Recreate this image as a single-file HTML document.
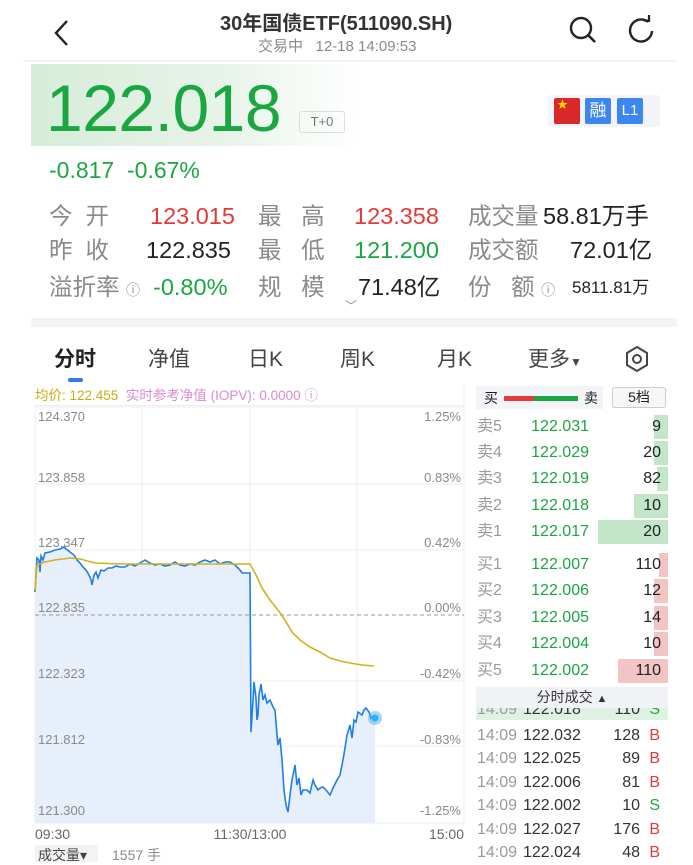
<!DOCTYPE html>
<html><head><meta charset="utf-8"><style>
*{margin:0;padding:0;box-sizing:border-box}
body{width:693px;height:862px;background:#fff;position:relative;overflow:hidden;font-family:"Liberation Sans","Noto Sans CJK SC",sans-serif;color:#222}
.a{position:absolute;white-space:nowrap}
.g{color:#1aa641}.r{color:#e23a3a}.gr{color:#8a8a8a}
.st{font-size:23.5px;line-height:30px}
.row{position:absolute;left:476px;width:192px;height:24px;font-size:16px;line-height:24px}
.row .l{position:absolute;left:1px;color:#9a9a9a}
.row .p{position:absolute;right:79px;color:#1aa641}
.row .v{position:absolute;right:7px;color:#222}
.row .b{position:absolute;right:0;top:0;height:24px}
.t{position:absolute;left:476px;width:192px;font-size:16px;line-height:22px}
.t .tm{position:absolute;left:1px;color:#9a9a9a}
.t .p{position:absolute;left:47px;color:#333}
.t .v{position:absolute;right:28px;color:#333}
.t .s{position:absolute;right:8px}
</style></head><body>
<svg class="a" style="left:52px;top:18px" width="20" height="30"><polyline points="15,3 4,15 15,27" fill="none" stroke="#222" stroke-width="2.4"/></svg>
<div class="a" style="left:220px;top:7px;font-size:20px;font-weight:bold;color:#333">30年国债ETF(511090.SH)</div>
<div class="a gr" style="left:258px;top:35px;font-size:15px">交易中&nbsp;&nbsp;&nbsp;12-18 14:09:53</div>
<svg class="a" style="left:567px;top:14px" width="34" height="32"><circle cx="14" cy="14" r="10" fill="none" stroke="#222" stroke-width="2.4"/><line x1="21" y1="21" x2="28" y2="28" stroke="#222" stroke-width="2.6"/></svg>
<svg class="a" style="left:626px;top:14px" width="32" height="30"><path d="M22 8 A11 11 0 1 0 26 17" fill="none" stroke="#222" stroke-width="2.4"/><polyline points="17,6 23,7 23,1" fill="none" stroke="#222" stroke-width="2.2"/></svg>
<div class="a" style="left:23px;top:60px;width:654px;height:2px;background:#f2f3f5"></div>
<div class="a" style="left:31px;top:64px;width:330px;height:82px;background:linear-gradient(90deg,#d7ecd9 0%,#e6f3e7 55%,#ffffff 100%)"></div>
<div class="a g" style="left:46px;top:70px;font-size:66px;line-height:76px;letter-spacing:-0.5px">122.018</div>
<div class="a" style="left:299px;top:111px;width:46px;height:22px;border:1px solid #ddd;border-radius:3px;font-size:13px;color:#777;text-align:center;line-height:20px">T+0</div>
<div class="a" style="left:548px;top:95px;width:112px;height:32px;background:#f3f4f7;border-radius:3px"></div>
<div class="a" style="left:554px;top:98px;width:26px;height:26px;background:#d8282a;border-radius:2px;color:#ffd500;font-size:11px;line-height:14px;padding-left:3px">★</div>
<div class="a" style="left:585px;top:98px;width:26px;height:26px;background:#3d86ef;border-radius:2px;color:#fff;font-size:17px;text-align:center;line-height:26px">融</div>
<div class="a" style="left:617px;top:98px;width:26px;height:26px;background:#3d86ef;border-radius:2px;color:#fff;font-size:15px;text-align:center;line-height:26px">L1</div>
<div class="a g" style="left:49px;top:157px;font-size:23px">-0.817&nbsp;&nbsp;-0.67%</div>
<div class="a gr st" style="left:49px;top:201px">今&nbsp;&nbsp;开</div>
<div class="a r st" style="left:150px;top:201px">123.015</div>
<div class="a gr st" style="left:258px;top:201px">最&nbsp;&nbsp;&nbsp;高</div>
<div class="a r st" style="left:354px;top:201px">123.358</div>
<div class="a gr st" style="left:468px;top:201px">成交量</div>
<div class="a st" style="left:543px;top:201px;color:#222">58.81万手</div>
<div class="a gr st" style="left:49px;top:235px">昨&nbsp;&nbsp;收</div>
<div class="a st" style="left:146px;top:235px">122.835</div>
<div class="a gr st" style="left:258px;top:235px">最&nbsp;&nbsp;&nbsp;低</div>
<div class="a g st" style="left:354px;top:235px">121.200</div>
<div class="a gr st" style="left:468px;top:235px">成交额</div>
<div class="a st" style="left:570px;top:235px">72.01亿</div>
<div class="a gr st" style="left:49px;top:272px">溢折率 <span style="font-size:14px">ⓘ</span></div>
<div class="a g st" style="left:153px;top:272px">-0.80%</div>
<div class="a gr st" style="left:258px;top:272px">规&nbsp;&nbsp;&nbsp;模</div>
<div class="a st" style="left:358px;top:272px">71.48亿</div>
<div class="a gr st" style="left:468px;top:272px">份&nbsp;&nbsp;&nbsp;额 <span style="font-size:14px">ⓘ</span></div>
<div class="a" style="left:572px;top:276px;font-size:17px;line-height:24px">5811.81万</div>
<div class="a gr" style="left:345px;top:297px;font-size:12px">﹀</div>
<div class="a" style="left:31px;top:318px;width:646px;height:9px;background:#f3f4f7"></div>
<div class="a" style="left:54px;top:343px;font-size:21px;font-weight:bold;color:#222">分时</div>
<div class="a" style="left:68px;top:378px;width:15px;height:4px;border-radius:2px;background:#2f7bea"></div>
<div class="a" style="left:148px;top:343px;font-size:21px;color:#444">净值</div>
<div class="a" style="left:248px;top:343px;font-size:21px;color:#444">日K</div>
<div class="a" style="left:340px;top:343px;font-size:21px;color:#444">周K</div>
<div class="a" style="left:437px;top:343px;font-size:21px;color:#444">月K</div>
<div class="a" style="left:528px;top:343px;font-size:21px;color:#444">更多<span style="font-size:12px">▼</span></div>
<svg class="a" style="left:624px;top:345px" width="26" height="28"><polygon points="13,2 23,8 23,20 13,26 3,20 3,8" fill="none" stroke="#444" stroke-width="2"/><circle cx="13" cy="14" r="4" fill="none" stroke="#444" stroke-width="2"/></svg>
<div class="a" style="left:35px;top:386px;width:430px;height:20px;font-size:13.5px;line-height:20px;border-bottom:1px solid #eee"><span style="color:#cfa913">均价: 122.455</span>&nbsp;&nbsp;<span style="color:#d98bd0">实时参考净值 (IOPV): 0.0000 ⓘ</span></div>
<svg class="a" style="left:0;top:0" width="470" height="862">
<g stroke="#eceef1" stroke-width="1">
<line x1="35" y1="407" x2="464" y2="407"/><line x1="35" y1="484" x2="464" y2="484"/><line x1="35" y1="550" x2="464" y2="550"/><line x1="35" y1="681" x2="464" y2="681"/><line x1="35" y1="746" x2="464" y2="746"/><line x1="35" y1="823" x2="464" y2="823"/>
<line x1="35" y1="407" x2="35" y2="823"/><line x1="142" y1="407" x2="142" y2="823"/><line x1="250" y1="407" x2="250" y2="823"/><line x1="357" y1="407" x2="357" y2="823"/><line x1="464" y1="386" x2="464" y2="823"/>
</g>
<polygon fill="#e3ecf9" opacity="0.85" points="35,823 35,592 37,558 39,560 40,572 41,556 43,560 45,553 50,552 55,550 60,549 64,547 66,549 70,552 74,555 77,560 80,563 83,567 86,570 89,575 91,580 92,585 94,575 96,572 98,578 101,570 104,571 108,568 112,568 116,566 120,567 125,567 130,564 135,566 140,563 145,560 150,563 155,565 160,564 165,566 170,565 175,562 180,565 185,566 190,564 195,565 200,562 205,560 210,562 215,560 220,564 225,562 230,562 235,565 240,570 242,573 246,573 250,573 251,732 253,700 254,682 256,698 257,720 258,715 259,695 261,684 263,700 265,695 267,703 270,700 273,707 275,710 277,735 278,745 280,738 282,760 284,790 286,805 288,812 290,795 292,780 295,765 297,785 299,778 301,795 303,790 307,790 310,793 313,780 315,785 318,790 320,788 323,787 326,790 330,795 333,788 337,780 340,775 343,760 345,748 347,735 350,725 352,738 354,720 356,722 358,712 362,715 364,710 366,708 369,712 371,718 373,716 375,717 375,823"/>
<line x1="35" y1="615" x2="464" y2="615" stroke="#999" stroke-width="1" stroke-dasharray="4,3"/>
<polyline fill="none" stroke="#1f7fe8" stroke-width="1.6" points="35,592 37,558 39,560 40,572 41,556 43,560 45,553 50,552 55,550 60,549 64,547 66,549 70,552 74,555 77,560 80,563 83,567 86,570 89,575 91,580 92,585 94,575 96,572 98,578 101,570 104,571 108,568 112,568 116,566 120,567 125,567 130,564 135,566 140,563 145,560 150,563 155,565 160,564 165,566 170,565 175,562 180,565 185,566 190,564 195,565 200,562 205,560 210,562 215,560 220,564 225,562 230,562 235,565 240,570 242,573 246,573 250,573 251,732 253,700 254,682 256,698 257,720 258,715 259,695 261,684 263,700 265,695 267,703 270,700 273,707 275,710 277,735 278,745 280,738 282,760 284,790 286,805 288,812 290,795 292,780 295,765 297,785 299,778 301,795 303,790 307,790 310,793 313,780 315,785 318,790 320,788 323,787 326,790 330,795 333,788 337,780 340,775 343,760 345,748 347,735 350,725 352,738 354,720 356,722 358,712 362,715 364,710 366,708 369,712 371,718 373,716 375,717"/>
<polyline fill="none" stroke="#d4b11a" stroke-width="1.6" points="35,590 37,565 45,562 55,560 70,558 80,559 95,563 120,564 200,564 250,564 256,575 262,588 270,600 278,610 285,620 292,632 300,640 310,647 320,652 330,658 340,661 350,663 362,665 374,666"/>
<circle cx="375" cy="718" r="7" fill="#5aa7f0" opacity="0.5"/><circle cx="375" cy="718" r="3.5" fill="#22b8f5"/>
<g font-family="Liberation Sans,sans-serif" font-size="13" fill="#8a8a8a">
<text x="38" y="421">124.370</text><text x="38" y="482">123.858</text><text x="38" y="547">123.347</text><text x="38" y="612">122.835</text><text x="38" y="678">122.323</text><text x="38" y="744">121.812</text><text x="38" y="815">121.300</text>
<text x="461" y="421" text-anchor="end">1.25%</text><text x="461" y="482" text-anchor="end">0.83%</text><text x="461" y="547" text-anchor="end">0.42%</text><text x="461" y="612" text-anchor="end">0.00%</text><text x="461" y="678" text-anchor="end">-0.42%</text><text x="461" y="744" text-anchor="end">-0.83%</text><text x="461" y="815" text-anchor="end">-1.25%</text>
</g>
<g font-family="Liberation Sans,sans-serif" font-size="14" fill="#666"><text x="35" y="839">09:30</text><text x="250" y="839" text-anchor="middle">11:30/13:00</text><text x="464" y="839" text-anchor="end">15:00</text></g>
</svg>
<div class="a" style="left:35px;top:845px;width:63px;height:17px;background:#f2f3f5"></div>
<div class="a" style="left:38px;top:845px;font-size:14px;color:#444">成交量▾</div>
<div class="a gr" style="left:112px;top:845px;font-size:14px">1557 手</div>
<div class="a" style="left:476px;top:386px;width:127px;height:23px;background:#f3f4f7"></div>
<div class="a" style="left:484px;top:388px;font-size:14px">买</div>
<div class="a" style="left:504px;top:396px;width:30px;height:5px;background:#e33a3a"></div>
<div class="a" style="left:534px;top:396px;width:44px;height:5px;background:#1aa641"></div>
<div class="a" style="left:584px;top:388px;font-size:14px">卖</div>
<div class="a" style="left:612px;top:387px;width:54px;height:21px;border:1px solid #ccc;border-radius:3px;background:#f7f7f7;font-size:14px;text-align:center;line-height:19px">5档</div>
<div class="row" style="top:415px"><div class="b" style="width:14px;background:#c3e6c9"></div><span class="l">卖5</span><span class="p">122.031</span><span class="v">9</span></div>
<div class="row" style="top:441px"><div class="b" style="width:14px;background:#c3e6c9"></div><span class="l">卖4</span><span class="p">122.029</span><span class="v">20</span></div>
<div class="row" style="top:467px"><div class="b" style="width:11px;background:#c3e6c9"></div><span class="l">卖3</span><span class="p">122.019</span><span class="v">82</span></div>
<div class="row" style="top:494px"><div class="b" style="width:34px;background:#c3e6c9"></div><span class="l">卖2</span><span class="p">122.018</span><span class="v">10</span></div>
<div class="row" style="top:520px"><div class="b" style="width:70px;background:#c3e6c9"></div><span class="l">卖1</span><span class="p">122.017</span><span class="v">20</span></div>
<div class="row" style="top:553px"><div class="b" style="width:9px;background:#f2c4c4"></div><span class="l">买1</span><span class="p">122.007</span><span class="v">110</span></div>
<div class="row" style="top:579px"><div class="b" style="width:14px;background:#f2c4c4"></div><span class="l">买2</span><span class="p">122.006</span><span class="v">12</span></div>
<div class="row" style="top:606px"><div class="b" style="width:14px;background:#f2c4c4"></div><span class="l">买3</span><span class="p">122.005</span><span class="v">14</span></div>
<div class="row" style="top:632px"><div class="b" style="width:14px;background:#f2c4c4"></div><span class="l">买4</span><span class="p">122.004</span><span class="v">10</span></div>
<div class="row" style="top:659px"><div class="b" style="width:50px;background:#f2c4c4"></div><span class="l">买5</span><span class="p">122.002</span><span class="v">110</span></div>
<div class="a" style="left:476px;top:705px;width:192px;height:15px;background:#dff1e2"></div>
<div class="t" style="top:703px;height:17px;overflow:hidden"><span class="tm" style="top:-4px">14:09</span><span class="p" style="top:-4px">122.018</span><span class="v" style="top:-4px">110</span><span class="s g" style="top:-4px">S</span></div>
<div class="a" style="left:476px;top:687px;width:192px;height:21px;background:#f0f2f6;font-size:14px;text-align:center;line-height:21px;color:#333">分时成交 <span style="font-size:11px">▲</span></div>
<div class="t" style="top:725px"><span class="tm">14:09</span><span class="p">122.032</span><span class="v">128</span><span class="s r">B</span></div>
<div class="t" style="top:748px"><span class="tm">14:09</span><span class="p">122.025</span><span class="v">89</span><span class="s r">B</span></div>
<div class="t" style="top:772px"><span class="tm">14:09</span><span class="p">122.006</span><span class="v">81</span><span class="s r">B</span></div>
<div class="t" style="top:795px"><span class="tm">14:09</span><span class="p">122.002</span><span class="v">10</span><span class="s g">S</span></div>
<div class="t" style="top:819px"><span class="tm">14:09</span><span class="p">122.027</span><span class="v">176</span><span class="s r">B</span></div>
<div class="t" style="top:842px"><span class="tm">14:09</span><span class="p">122.024</span><span class="v">48</span><span class="s r">B</span></div>
</body></html>
